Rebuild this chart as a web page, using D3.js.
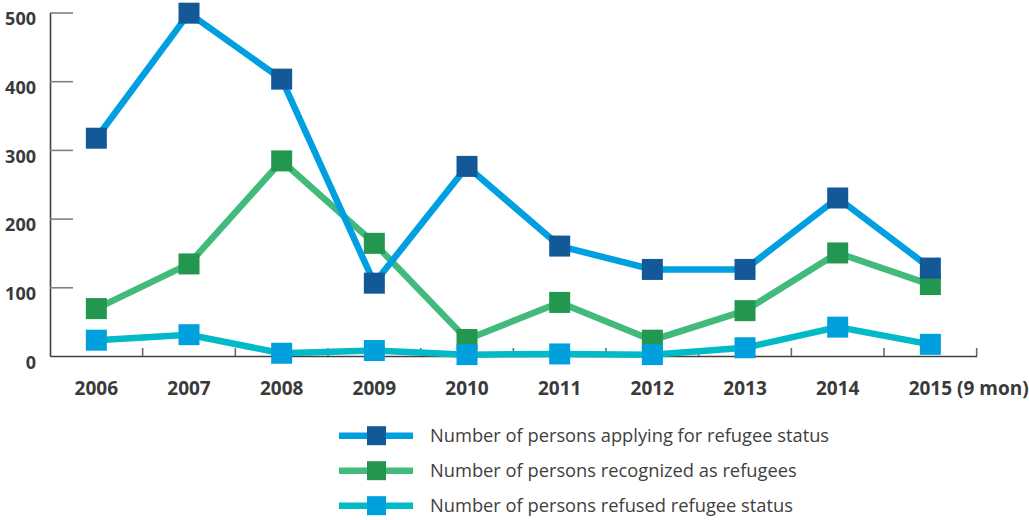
<!DOCTYPE html>
<html>
<head>
<meta charset="utf-8">
<script src="https://cdn.jsdelivr.net/npm/d3@7"></script>
<style>
  html, body { margin: 0; padding: 0; background: #fff; }
  svg { display: block; }
</style>
</head>
<body>
<svg id="chart" width="1029" height="520"></svg>
<script>
// Refugee status statistics, 2006 – 2015 (first nine months)
const years = ["2006", "2007", "2008", "2009", "2010", "2011", "2012", "2013", "2014", "2015 (9 mon)"];
const applying   = [317, 499, 403, 106, 276, 160, 126, 126, 230, 128];
const recognized = [69, 134, 284, 164, 24, 78, 23, 66, 150, 104];
const refused    = [23, 31, 4, 8, 2, 3, 2, 12, 42, 17];
const yTicks = [0, 100, 200, 300, 400, 500];

const seriesNames = [
  "Number of persons applying for refugee status",
  "Number of persons recognized as refugees",
  "Number of persons refused refugee status"
];

const series = [
  { name: seriesNames[0], values: applying,   line: "#009fe0", marker: "#135997" },
  { name: seriesNames[1], values: recognized, line: "#41ba7b", marker: "#23964f" },
  { name: seriesNames[2], values: refused,    line: "#00bac8", marker: "#009fde" }
];

const svg = d3.select("#chart");
const labelFont = "'Open Sans', 'DejaVu Sans', sans-serif";

const x = d3.scaleBand().domain(years).range([50, 976.7]);
const y = d3.scaleLinear().domain([0, 500]).range([356, 12.5]);
const cx = d => x(d) + x.bandwidth() / 2;

// Y axis: ticks point inward, labels sit just below each tick
const yAxis = svg.append("g")
  .attr("transform", "translate(50,0)")
  .call(d3.axisLeft(y).tickValues(yTicks).tickSizeInner(-23).tickSizeOuter(0).tickPadding(14));
yAxis.select(".domain").attr("stroke", "#404040").attr("stroke-width", 1.6);
yAxis.selectAll(".tick line").attr("stroke", "#808080").attr("stroke-width", 1.6)
  .filter(d => d === 0).remove();
yAxis.selectAll(".tick text")
  .attr("dy", "0.32em").attr("y", 6.5)
  .attr("fill", "#3a3a3a")
  .style("font-family", labelFont).style("font-size", "18px").style("font-weight", "700");

// X axis with category boundaries marked by short upward ticks
const xAxis = svg.append("g")
  .attr("transform", "translate(0,356)")
  .call(d3.axisBottom(x).tickSize(0).tickSizeOuter(0));
xAxis.select(".domain").attr("stroke", "#404040").attr("stroke-width", 1.6);
xAxis.selectAll(".tick text")
  .attr("y", 39).attr("dy", 0)
  .attr("fill", "#3a3a3a")
  .style("font-family", labelFont).style("font-size", "19px").style("font-weight", "700");

// The last label keeps its year aligned with the other years; the note hangs to the right
const lastTick = xAxis.selectAll(".tick text").filter(d => d === years[years.length - 1]);
{
  const probe = xAxis.append("text").text("2015")
    .style("font-family", labelFont).style("font-size", "19px").style("font-weight", "700");
  const w = probe.node().getComputedTextLength();
  probe.remove();
  lastTick.attr("text-anchor", "start").attr("x", -w / 2);
}

const boundaries = years.slice(1).map(d => x(d)).concat([x.range()[1]]);
svg.append("g").selectAll("line").data(boundaries).join("line")
  .attr("x1", d => d).attr("x2", d => d)
  .attr("y1", 356).attr("y2", 348)
  .attr("stroke", "#6a6a6a").attr("stroke-width", 1.6);

// Lines
const line = d3.line().x((v, i) => cx(years[i])).y(v => y(v));
const drawOrder = [series[2], series[1], series[0]];
svg.append("g").selectAll("path").data(drawOrder).join("path")
  .attr("d", s => line(s.values))
  .attr("fill", "none")
  .attr("stroke", s => s.line)
  .attr("stroke-width", 6.5)
  .attr("stroke-linejoin", "miter");

// Square markers
const m = 21;
const markerOrder = [series[1], series[0], series[2]];
markerOrder.forEach(s => {
  svg.append("g").selectAll("rect").data(s.values).join("rect")
    .attr("x", (v, i) => cx(years[i]) - m / 2)
    .attr("y", v => y(v) - m / 2)
    .attr("width", m).attr("height", m)
    .attr("fill", s.marker);
});

// Legend
const legend = svg.append("g");
const rows = legend.selectAll("g").data(series).join("g")
  .attr("transform", (s, i) => `translate(0,${435.7 + i * 35})`);
rows.append("line")
  .attr("x1", 339).attr("x2", 413).attr("y1", 0).attr("y2", 0)
  .attr("stroke", s => s.line).attr("stroke-width", 6.5);
rows.append("rect")
  .attr("x", 376.5 - 9.5).attr("y", -9.5).attr("width", 19).attr("height", 19)
  .attr("fill", s => s.marker);
rows.append("text")
  .attr("x", 430).attr("y", 0).attr("dy", "0.36em")
  .attr("fill", "#404040")
  .style("font-family", labelFont).style("font-size", "18.3px")
  .text(s => s.name);
</script>
</body>
</html>
